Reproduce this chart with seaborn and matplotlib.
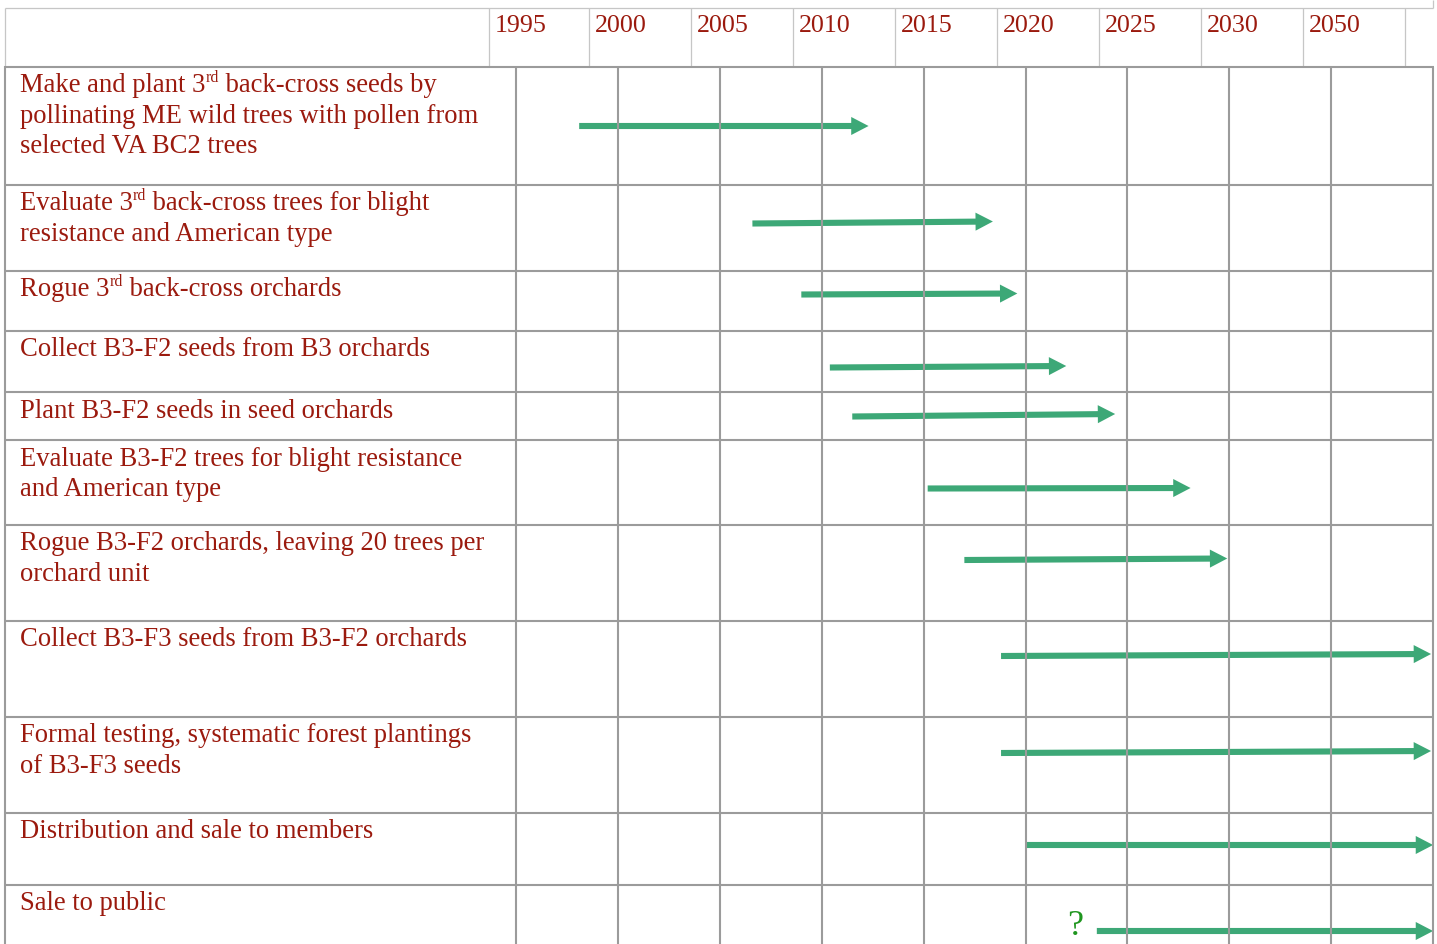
import re
import numpy as np
import pandas as pd
import matplotlib
matplotlib.use("Agg")
import matplotlib.pyplot as plt
from matplotlib.transforms import Affine2D
from matplotlib.patches import FancyArrowPatch, ArrowStyle
import seaborn as sns

# ---------------- data ----------------
header_years = ["1995", "2000", "2005", "2010", "2015", "2020", "2025", "2030", "2050"]
task_lines = [
    ["Make and plant 3{rd} back-cross seeds by", "pollinating ME wild trees with pollen from", "selected VA BC2 trees"],
    ["Evaluate 3{rd} back-cross trees for blight", "resistance and American type"],
    ["Rogue 3{rd} back-cross orchards"],
    ["Collect B3-F2 seeds from B3 orchards"],
    ["Plant B3-F2 seeds in seed orchards"],
    ["Evaluate B3-F2 trees for blight resistance", "and American type"],
    ["Rogue B3-F2 orchards, leaving 20 trees per", "orchard unit"],
    ["Collect B3-F3 seeds from B3-F2 orchards"],
    ["Formal testing, systematic forest plantings", "of B3-F3 seeds"],
    ["Distribution and sale to members"],
    ["Sale to public"],
]
start_year = [1998.1, 2006.6, 2009.0, 2010.4, 2011.5, 2015.2, 2017.0, 2018.8, 2018.8, 2020.0, 2023.5]
end_year = [2012.3, 2018.4, 2019.6, 2022.0, 2024.4, 2028.1, 2029.9, 2039.9, 2039.9, 2040.0, 2040.0]
uncertain = [False] * 10 + [True]

# ---------------- layout (pixels) ----------------
W, H = 1437, 944
row_edges = [67, 185, 271, 331, 392, 440, 525, 621, 717, 813, 885]
arrow_y0 = [126, 223.5, 294.5, 367.5, 416.5, 488.5, 560, 656, 753, 845, 931]
arrow_y1 = [126, 221.5, 293.5, 366, 414, 488, 558.5, 654, 751, 845, 931]
header_vlines = [489, 589, 691, 793, 895, 997, 1099, 1201, 1303, 1405]
body_left, body_right = 5, 1433
px_per_year = 20.38
x0_px = 516  # pixel position of 1995 in body grid

TEXT_RED = "#9b1a0e"
GREEN = "#3da877"
Q_GREEN = "#1f961f"
GRID_DARK = "#9b9b9b"
GRID_LIGHT = "#c6c6c6"

sns.set_theme(style="white")
plt.rcParams["font.family"] = ["Liberation Serif", "DejaVu Serif"]

fig = plt.figure(figsize=(W / 100, H / 100), dpi=100)
ax = fig.add_axes([0, 0, 1, 1])
ax.set_xlim(1995 - x0_px / px_per_year, 1995 + (W - x0_px) / px_per_year)
ax.set_ylim(H, 0)
ax.axis("off")

pix = Affine2D().scale(1, -1).translate(0, H)  # image-pixel coords (y down)

def hline(y, xa, xb, color, lw):
    fig.add_artist(plt.Line2D([xa, xb], [y, y], color=color, lw=lw, transform=pix, solid_capstyle="butt"))

def vline(x, ya, yb, color, lw):
    fig.add_artist(plt.Line2D([x, x], [ya, yb], color=color, lw=lw, transform=pix, solid_capstyle="butt"))

# header frame (light)
hline(7.5, 4.5, 1432.5, GRID_LIGHT, 0.9)
vline(1432.5, 0, 7.5, GRID_LIGHT, 0.9)
vline(4.5, 7.5, 67, GRID_LIGHT, 0.9)
for xv in header_vlines:
    vline(xv, 7.5, 66, GRID_LIGHT, 0.9)

# body grid (dark)
for yv in row_edges:
    hline(yv, body_left - 1, body_right + 1, GRID_DARK, 1.5)
vline(body_left, 66, H, GRID_DARK, 1.5)
grid_years = np.arange(1995, 2041, 5)
ax.vlines(grid_years, row_edges[0], H, colors=GRID_DARK, lw=1.5)

# header year labels
FS_H = 18.7
FS = 19.2
for xv, lab in zip(header_vlines, header_years):
    fig.text(xv + 6, 32, lab, transform=pix, fontsize=FS_H, color=TEXT_RED, va="baseline", ha="left")

# task labels with superscripts
renderer = fig.canvas.get_renderer()

def draw_rich(x, baseline, s):
    parts = re.split(r"(\{[^}]*\})", s)
    for p in parts:
        if not p:
            continue
        if p.startswith("{"):
            t = fig.text(x, baseline - 10.5, p[1:-1], transform=pix, fontsize=FS * 0.6,
                         color=TEXT_RED, va="baseline", ha="left")
        else:
            t = fig.text(x, baseline, p, transform=pix, fontsize=FS,
                         color=TEXT_RED, va="baseline", ha="left")
        bb = t.get_window_extent(renderer)
        x += bb.width

for top, lines in zip(row_edges, task_lines):
    for k, ln in enumerate(lines):
        draw_rich(20, top + 25.5 + 30.4 * k, ln)

# arrows
df = pd.DataFrame({"start": start_year, "end": end_year, "y0": arrow_y0, "y1": arrow_y1})
style = ArrowStyle("Simple", head_length=12.5, head_width=13.0, tail_width=4.4)
for i, r in df.iterrows():
    a = FancyArrowPatch((r.start, r.y0), (r.end, r.y1), arrowstyle=style, mutation_scale=1,
                        color=GREEN, lw=0, shrinkA=0, shrinkB=0, transform=ax.transData)
    ax.add_patch(a)
    if uncertain[i]:
        ax.text(r.start - 1.05, r.y0 + 4, "?", fontsize=26, color=Q_GREEN,
                ha="center", va="baseline")

fig.savefig("out.png", dpi=100)
